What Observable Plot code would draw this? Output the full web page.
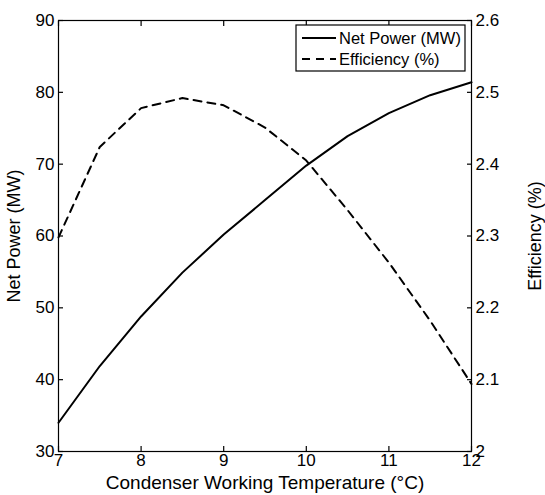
<!DOCTYPE html>
<html>
<head>
<meta charset="utf-8">
<script src="https://cdn.jsdelivr.net/npm/d3@7"></script>
<script src="https://cdn.jsdelivr.net/npm/@observablehq/plot@0.6"></script>
<style>
  body { margin: 0; background: white; }
  #chart { position: relative; width: 545px; height: 495px; }
</style>
</head>
<body>
<div id="chart"></div>
<script>
const temperatures = [7, 7.5, 8, 8.5, 9, 9.5, 10, 10.5, 11, 11.5, 12];
const netPower = [34.0, 41.9, 48.8, 54.9, 60.2, 65.0, 69.8, 73.9, 77.1, 79.6, 81.4];
const efficiency = [2.298, 2.424, 2.478, 2.492, 2.482, 2.451, 2.405, 2.336, 2.263, 2.182, 2.094];
const xTicks = [7, 8, 9, 10, 11, 12];
const leftTicks = [30, 40, 50, 60, 70, 80, 90];
const rightTickLabels = ["2", "2.1", "2.2", "2.3", "2.4", "2.5", "2.6"];
const seriesNames = ["Net Power (MW)", "Efficiency (%)"];

// map efficiency (2..2.6) onto the left scale (30..90)
const effToLeft = e => 30 + (e - 2) * 100;

const data = temperatures.map((t, i) => ({ t, power: netPower[i], eff: effToLeft(efficiency[i]) }));

const font = "'Liberation Sans', Arial, Helvetica, sans-serif";

const plot = Plot.plot({
  width: 545,
  height: 495,
  marginLeft: 58,
  marginRight: 74,
  marginTop: 20,
  marginBottom: 44,
  style: { fontFamily: font, fontSize: "16px", background: "white", color: "black" },
  x: { domain: [7, 12] },
  y: { domain: [30, 90] },
  marks: [
    Plot.frame({ stroke: "black", strokeWidth: 1.2 }),
    // inward ticks
    Plot.axisX({ anchor: "bottom", ticks: xTicks, tickSize: 5, dy: -5, text: null, label: null, strokeWidth: 1.2 }),
    Plot.axisX({ anchor: "top", ticks: xTicks, tickSize: 5, dy: 5, text: null, label: null, strokeWidth: 1.2 }),
    Plot.axisY({ anchor: "left", ticks: leftTicks, tickSize: 5, dx: 5, text: null, label: null, strokeWidth: 1.2 }),
    Plot.axisY({ anchor: "right", ticks: leftTicks, tickSize: 5, dx: -5, text: null, label: null, strokeWidth: 1.2 }),
    // tick labels
    Plot.axisX({ anchor: "bottom", ticks: xTicks, tickSize: 0, tickPadding: 2, label: null, fontSize: 17, tickFormat: d => String(d) }),
    Plot.axisY({ anchor: "left", ticks: leftTicks, tickSize: 0, tickPadding: 4, label: null, fontSize: 17 }),
    Plot.axisY({ anchor: "right", ticks: leftTicks, tickSize: 0, tickPadding: 4, label: null, fontSize: 17,
      tickFormat: d => rightTickLabels[leftTicks.indexOf(d)] }),
    // axis titles
    Plot.text(["Condenser Working Temperature (°C)"], { frameAnchor: "bottom", dy: 31, lineAnchor: "middle", fontSize: 19 }),
    Plot.text(["Net Power (MW)"], { frameAnchor: "left", dx: -44, rotate: -90, textAnchor: "middle", fontSize: 18 }),
    Plot.text(["Efficiency (%)"], { frameAnchor: "right", dx: 64, rotate: -90, textAnchor: "middle", fontSize: 18 }),
    // series
    Plot.line(data, { x: "t", y: "power", stroke: "black", strokeWidth: 2 }),
    Plot.line(data, { x: "t", y: "eff", stroke: "black", strokeWidth: 2, strokeDasharray: "8,6" })
  ]
});

document.getElementById("chart").appendChild(plot);

// legend
const svg = d3.select(plot);
const lg = svg.append("g").attr("font-family", font).attr("font-size", 16.5).attr("text-anchor", "start");
lg.append("rect").attr("x", 296).attr("y", 25).attr("width", 169).attr("height", 46)
  .attr("fill", "white").attr("stroke", "black").attr("stroke-width", 1.2);
const dashes = [null, "8,6"];
seriesNames.forEach((name, i) => {
  const y = 38 + i * 21;
  lg.append("line").attr("x1", 302).attr("x2", 336).attr("y1", y).attr("y2", y)
    .attr("stroke", "black").attr("stroke-width", 2).attr("stroke-dasharray", dashes[i]);
  lg.append("text").attr("x", 339).attr("y", y).attr("dy", "0.35em").attr("text-anchor", "start").text(name);
});
</script>
</body>
</html>
